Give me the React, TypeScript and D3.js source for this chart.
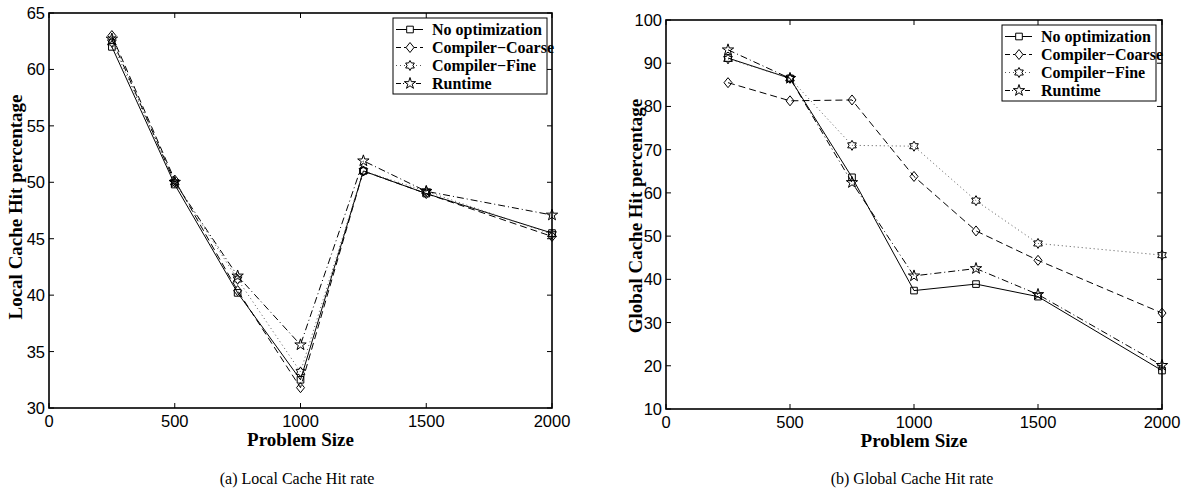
import React, { useEffect, useRef } from "react";
import * as d3 from "d3";

// problem sizes on the x axis
const sizes = [250, 500, 750, 1000, 1250, 1500, 2000];
const seriesNames = ["No optimization", "Compiler\u2212Coarse", "Compiler\u2212Fine", "Runtime"];

// (a) local cache hit rate
const localNoOpt = [62.0, 49.8, 40.2, 32.5, 51.0, 49.0, 45.5];
const localCoarse = [63.0, 50.2, 40.4, 31.8, 51.0, 49.0, 45.2];
const localFine = [62.4, 50.0, 41.4, 33.2, 51.0, 49.2, 45.4];
const localRuntime = [62.7, 50.0, 41.7, 35.6, 51.9, 49.2, 47.1];

// (b) global cache hit rate
const globalNoOpt = [91.2, 86.5, 63.6, 37.4, 38.9, 36.0, 18.9];
const globalCoarse = [85.5, 81.3, 81.5, 63.8, 51.2, 44.4, 32.2];
const globalFine = [91.0, 86.5, 71.0, 70.8, 58.2, 48.3, 45.6];
const globalRuntime = [93.1, 86.5, 62.4, 40.8, 42.5, 36.5, 20.1];

const xTicks = [0, 500, 1000, 1500, 2000];
const localTicks = [30, 35, 40, 45, 50, 55, 60, 65];
const globalTicks = [10, 20, 30, 40, 50, 60, 70, 80, 90, 100];

const dashes = ["none", "7,4", "1,3", "7,3,1,3"];
const serif = "Liberation Serif, Times New Roman, serif";
const sans = "Liberation Sans, Arial, sans-serif";

// six pointed star (matlab 'h' marker)
function hexagram(r: number) {
  const pts: string[] = [];
  for (let i = 0; i < 12; i++) {
    const a = (Math.PI / 6) * i - Math.PI / 2;
    const rr = i % 2 === 0 ? r : r * 0.58;
    pts.push(`${(rr * Math.cos(a)).toFixed(2)},${(rr * Math.sin(a)).toFixed(2)}`);
  }
  return "M" + pts.join("L") + "Z";
}

function markerPath(i: number) {
  if (i === 0) return d3.symbol().type(d3.symbolSquare).size(44)()!;
  if (i === 1) return "M0,-5L4,0L0,5L-4,0Z";
  if (i === 2) return hexagram(5);
  return d3.symbol().type(d3.symbolStar).size(40)()!;
}

function drawPanel(svg: any, p: any) {
  const x = d3.scaleLinear().domain([0, 2000]).range([p.left, p.right]);
  const y = d3.scaleLinear().domain(p.yDomain).range([p.bottom, p.top]);
  const g = svg.append("g");

  // series lines + markers
  p.series.forEach((vals: number[], i: number) => {
    const line = d3
      .line<number>()
      .x((_, k) => x(sizes[k]))
      .y((v) => y(v));
    g.append("path")
      .attr("d", line(vals))
      .attr("fill", "none")
      .attr("stroke", i === 2 ? "#555" : "#000")
      .attr("stroke-width", 1)
      .attr("stroke-dasharray", dashes[i]);
    g.selectAll(null)
      .data(vals)
      .join("path")
      .attr("d", markerPath(i))
      .attr("transform", (v: number, k: number) => `translate(${x(sizes[k])},${y(v)})`)
      .attr("fill", "none")
      .attr("stroke", "#000")
      .attr("stroke-width", 1);
  });

  // box + inward ticks
  g.append("rect")
    .attr("x", p.left)
    .attr("y", p.top)
    .attr("width", p.right - p.left)
    .attr("height", p.bottom - p.top)
    .attr("fill", "none")
    .attr("stroke", "#000")
    .attr("stroke-width", 1.6);

  const tl = 5;
  xTicks.forEach((t) => {
    g.append("line").attr("x1", x(t)).attr("x2", x(t)).attr("y1", p.bottom).attr("y2", p.bottom - tl).attr("stroke", "#000");
    g.append("line").attr("x1", x(t)).attr("x2", x(t)).attr("y1", p.top).attr("y2", p.top + tl).attr("stroke", "#000");
    g.append("text")
      .attr("x", x(t))
      .attr("y", p.bottom + 19)
      .attr("text-anchor", "middle")
      .attr("font-family", sans)
      .attr("font-size", 16.5)
      .text(t);
  });
  p.yTicks.forEach((t: number) => {
    g.append("line").attr("x1", p.left).attr("x2", p.left + tl).attr("y1", y(t)).attr("y2", y(t)).attr("stroke", "#000");
    g.append("line").attr("x1", p.right).attr("x2", p.right - tl).attr("y1", y(t)).attr("y2", y(t)).attr("stroke", "#000");
    g.append("text")
      .attr("x", p.left - 4)
      .attr("y", y(t) + 6)
      .attr("text-anchor", "end")
      .attr("font-family", sans)
      .attr("font-size", 16.5)
      .text(t);
  });

  // axis titles
  g.append("text")
    .attr("x", (p.left + p.right) / 2)
    .attr("y", p.bottom + 38)
    .attr("text-anchor", "middle")
    .attr("font-family", serif)
    .attr("font-weight", "bold")
    .attr("font-size", 19)
    .text("Problem Size");
  g.append("text")
    .attr("transform", `translate(${p.yTitleX},${p.yTitleY}) rotate(-90)`)
    .attr("text-anchor", "middle")
    .attr("font-family", serif)
    .attr("font-weight", "bold")
    .attr("font-size", 19)
    .text(p.yTitle);
  g.append("text")
    .attr("x", p.captionX)
    .attr("y", 484)
    .attr("text-anchor", "middle")
    .attr("font-family", serif)
    .attr("font-size", 16)
    .text(p.caption);

  // legend
  const L = p.legend;
  g.append("rect")
    .attr("x", L.x)
    .attr("y", L.y)
    .attr("width", 154)
    .attr("height", 76)
    .attr("fill", "#fff")
    .attr("stroke", "#000")
    .attr("stroke-width", 1);
  seriesNames.forEach((name, i) => {
    const cy = L.y + 11.5 + i * 18;
    g.append("line")
      .attr("x1", L.x + 3)
      .attr("x2", L.x + 30)
      .attr("y1", cy)
      .attr("y2", cy)
      .attr("stroke", i === 2 ? "#555" : "#000")
      .attr("stroke-dasharray", i === 0 ? "none" : i === 1 ? "5,3" : i === 2 ? "1,3" : "5,2,1,2");
    g.append("path")
      .attr("d", markerPath(i))
      .attr("transform", `translate(${L.x + 17},${cy})`)
      .attr("fill", "#fff")
      .attr("stroke", "#000");
    g.append("text")
      .attr("x", L.x + 39)
      .attr("y", cy + 5.5)
      .attr("font-family", serif)
      .attr("font-weight", "bold")
      .attr("font-size", 16)
      .text(name);
  });
}

export default function App() {
  const ref = useRef<SVGSVGElement>(null);

  useEffect(() => {
    const svg = d3.select(ref.current);
    svg.selectAll("*").remove();
    drawPanel(svg, {
      left: 49,
      right: 552,
      top: 13,
      bottom: 408,
      yDomain: [30, 65],
      yTicks: localTicks,
      series: [localNoOpt, localCoarse, localFine, localRuntime],
      yTitle: "Local Cache Hit percentage",
      yTitleX: 22,
      yTitleY: 207,
      caption: "(a) Local Cache Hit rate",
      captionX: 297,
      legend: { x: 393, y: 18 },
    });
    drawPanel(svg, {
      left: 666,
      right: 1162,
      top: 20,
      bottom: 409,
      yDomain: [10, 100],
      yTicks: globalTicks,
      series: [globalNoOpt, globalCoarse, globalFine, globalRuntime],
      yTitle: "Global Cache Hit percentage",
      yTitleX: 642,
      yTitleY: 216,
      caption: "(b) Global Cache Hit rate",
      captionX: 912,
      legend: { x: 1002, y: 25 },
    });
  }, []);

  return (
    <svg
      ref={ref}
      width={1186}
      height={493}
      style={{ position: "absolute", left: 0, top: 0, background: "#fff" }}
    />
  );
}
